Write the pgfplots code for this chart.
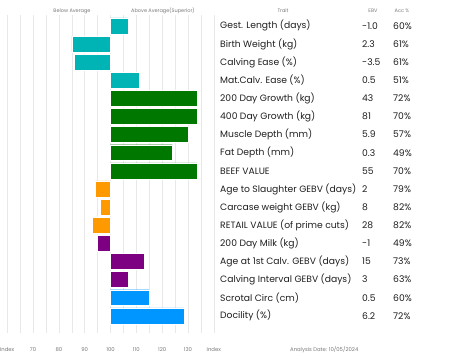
\documentclass[border=0pt]{standalone}
\usepackage{pgfplots}
\pgfplotsset{compat=1.18}
\usepackage{fontspec}
\setmainfont{Poppins}
\definecolor{cteal}{RGB}{0,180,182}
\definecolor{cgreen}{RGB}{0,120,0}
\definecolor{corange}{RGB}{255,153,0}
\definecolor{cpurple}{RGB}{125,0,130}
\definecolor{cblue}{RGB}{0,150,255}
\definecolor{tdark}{RGB}{30,30,30}
\definecolor{tgray}{RGB}{120,120,120}
\begin{document}
\begin{tikzpicture}[x=1pt,y=1pt]
\useasboundingbox (0,0) rectangle (453,-362);
\begin{axis}[at={(7.2pt,-15pt)}, anchor=north west, scale only axis,
  width=206.6pt, height=318pt,
  xmin=-40, xmax=40, ymin=-0.6, ymax=16.95, y dir=reverse,
  xbar, bar width=0.88, bar shift=0pt,
  ytick=\empty,
  xtick={-40,-30,...,40},
  xticklabels={Index,70,80,90,100,110,120,130,Index},
  minor x tick num=1, xmajorgrids, xminorgrids,
  grid style={gray!18, line width=0.5pt},
  minor grid style={gray!18, line width=0.5pt},
  axis line style={draw=none},
  major tick length=0pt, minor tick length=0pt,
  tick label style={font=\fontsize{5.3}{6}\selectfont, text=tgray},
  xticklabel style={yshift=-11pt},
  /pgf/number format/assume math mode=true,
  clip=false]
\addplot[fill=cteal, draw=white, line width=0.4pt] coordinates {(7,0) (-15,1) (-14,2) (11,3)};
\addplot[fill=cgreen, draw=white, line width=0.4pt] coordinates {(33.5,4) (33.5,5) (30,6) (24,7) (33.5,8)};
\addplot[fill=corange, draw=white, line width=0.4pt] coordinates {(-6,9) (-4,10) (-7,11)};
\addplot[fill=cpurple, draw=white, line width=0.4pt] coordinates {(-5,12) (13,13) (7,14)};
\addplot[fill=cblue, draw=white, line width=0.4pt] coordinates {(15,15) (28.5,16)};
\end{axis}
\foreach \t/\e/\a [count=\i from 0] in {
  Gest. Length (days)/-1.0/60\%,
  Birth Weight (kg)/2.3/61\%,
  Calving Ease (\%)/-3.5/61\%,
  Mat.Calv. Ease (\%)/0.5/51\%,
  200 Day Growth (kg)/43/72\%,
  400 Day Growth (kg)/81/70\%,
  Muscle Depth (mm)/5.9/57\%,
  Fat Depth (mm)/0.3/49\%,
  BEEF VALUE/55/70\%,
  Age to Slaughter GEBV (days)/2/79\%,
  Carcase weight GEBV (kg)/8/82\%,
  RETAIL VALUE (of prime cuts)/28/82\%,
  200 Day Milk (kg)/-1/49\%,
  Age at 1st Calv. GEBV (days)/15/73\%,
  Calving Interval GEBV (days)/3/63\%,
  Scrotal Circ (cm)/0.5/60\%,
  Docility (\%)/6.2/72\%}{
  \node[anchor=west, inner sep=0pt, font=\fontsize{9.2}{11}\selectfont, text=tdark] at (220,{-25.9-18.12*\i}) {\t};
  \node[anchor=west, inner sep=0pt, font=\fontsize{9.2}{11}\selectfont, text=tdark] at (362,{-25.9-18.12*\i}) {\e};
  \node[anchor=west, inner sep=0pt, font=\fontsize{9.2}{11}\selectfont, text=tdark] at (393,{-25.9-18.12*\i}) {\a};
}
\begin{scope}[every node/.style={font=\fontsize{5}{6}\selectfont, text=tgray, inner sep=0pt}]
\node at (72,-11) {Below Average};
\node at (163,-11) {Above Average(Superior)};
\node at (283,-11) {Trait};
\node at (373,-11) {EBV};
\node at (402,-11) {Acc \%};
\end{scope}
\node[anchor=west, inner sep=0pt, font=\fontsize{5.3}{6}\selectfont, text=tgray] at (290,-350) {Analysis Date: 10/05/2024};
\end{tikzpicture}
\end{document}
